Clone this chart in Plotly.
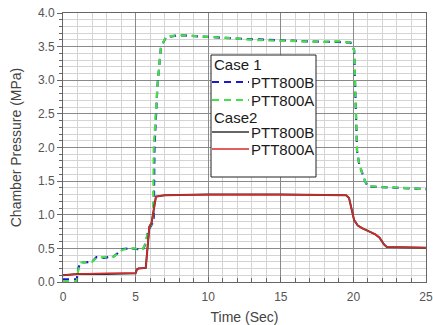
import plotly.graph_objects as go

# Case 1 (dashed)
t_c1b = [0, 0.95, 1.05, 1.2, 2.0, 2.3, 2.8, 3.5, 4.1, 4.6, 5.5, 5.65, 5.9, 6.1, 6.25, 6.3, 6.5, 6.75, 7.1, 8, 10, 12, 13, 16, 18, 19, 19.8, 20.05, 20.15, 20.25, 20.4, 20.8, 21.0, 22, 23.5, 25]
v_c1b = [0.04, 0.04, 0.2, 0.29, 0.30, 0.37, 0.36, 0.38, 0.49, 0.50, 0.48, 0.55, 0.78, 0.86, 0.9, 2.0, 2.9, 3.5, 3.64, 3.67, 3.64, 3.62, 3.61, 3.58, 3.57, 3.57, 3.56, 3.45, 2.6, 1.95, 1.75, 1.5, 1.42, 1.41, 1.40, 1.38]
t_c1a = [0, 0.95, 1.05, 1.2, 2.0, 2.3, 2.8, 3.5, 4.1, 4.6, 5.5, 5.65, 5.9, 6.1, 6.2, 6.25, 6.5, 6.75, 7.1, 8, 10, 12, 13, 16, 18, 19, 19.8, 20.05, 20.15, 20.25, 20.4, 20.8, 21.0, 22, 23.5, 25]
v_c1a = [0.01, 0.01, 0.18, 0.29, 0.30, 0.36, 0.37, 0.38, 0.48, 0.50, 0.49, 0.56, 0.79, 0.86, 0.9, 2.0, 2.9, 3.5, 3.65, 3.67, 3.65, 3.62, 3.60, 3.58, 3.57, 3.58, 3.56, 3.45, 2.6, 1.95, 1.75, 1.5, 1.43, 1.41, 1.40, 1.38]

# Case2 (solid)
t_c2b = [0, 1, 3, 5.0, 5.1, 5.2, 5.7, 5.8, 5.95, 6.1, 6.25, 6.4, 7, 10, 15, 19.5, 19.7, 19.9, 20.05, 20.3, 20.6, 21.0, 21.5, 21.8, 22.1, 22.3, 25]
v_c2b = [0.10, 0.12, 0.12, 0.13, 0.19, 0.20, 0.21, 0.50, 0.82, 0.88, 1.10, 1.27, 1.29, 1.30, 1.30, 1.29, 1.25, 1.05, 0.92, 0.84, 0.80, 0.76, 0.71, 0.66, 0.56, 0.52, 0.51]
t_c2a = [0, 1, 3, 5.0, 5.1, 5.2, 5.7, 5.8, 5.95, 6.1, 6.25, 6.4, 7, 10, 15, 19.5, 19.7, 19.9, 20.05, 20.3, 20.6, 21.0, 21.5, 21.8, 22.1, 22.3, 25]
v_c2a = [0.10, 0.12, 0.13, 0.13, 0.19, 0.20, 0.21, 0.50, 0.83, 0.88, 1.10, 1.27, 1.29, 1.30, 1.30, 1.29, 1.25, 1.05, 0.92, 0.84, 0.80, 0.76, 0.71, 0.66, 0.56, 0.52, 0.51]

x_ticks = [0, 5, 10, 15, 20, 25]
y_ticks = [0.0, 0.5, 1.0, 1.5, 2.0, 2.5, 3.0, 3.5, 4.0]
y_tick_labels = ["0.0", "0.5", "1.0", "1.5", "2.0", "2.5", "3.0", "3.5", "4.0"]

series_names = ["PTT800B", "PTT800A", "PTT800B", "PTT800A"]
group_titles = ["Case 1", "Case2"]
colors = ["#1a1acc", "#44e044", "#333333", "#d42a2a"]

fig = go.Figure()
fig.add_trace(go.Scatter(x=t_c1b, y=v_c1b, mode="lines", name=series_names[0], showlegend=False,
                         line=dict(color=colors[0], width=2.2, dash="6px,5px")))
fig.add_trace(go.Scatter(x=t_c1a, y=v_c1a, mode="lines", name=series_names[1], showlegend=False,
                         line=dict(color=colors[1], width=2.2, dash="6px,5px")))
fig.add_trace(go.Scatter(x=t_c2b, y=v_c2b, mode="lines", name=series_names[2], showlegend=False,
                         line=dict(color=colors[2], width=2.0)))
fig.add_trace(go.Scatter(x=t_c2a, y=v_c2a, mode="lines", name=series_names[3], showlegend=False,
                         line=dict(color=colors[3], width=1.6)))

L, R, T, B = 63, 7, 13, 43
W, H = 433, 325
pw, ph = W - L - R, H - T - B

def px_x(p):
    return (p - L) / pw

def px_y(p):
    return (H - B - p) / ph

# legend box
fig.add_shape(type="rect", xref="paper", yref="paper",
              x0=px_x(211), x1=px_x(316), y0=px_y(177), y1=px_y(55),
              fillcolor="white", line=dict(color="#222", width=1), layer="above")

leg_font = dict(family="Liberation Sans, Arial", size=15, color="#1a1a1a")
for title, yy in zip(group_titles, [65, 117]):
    fig.add_annotation(xref="paper", yref="paper", x=px_x(212), y=px_y(yy),
                       xanchor="left", yanchor="middle", text=title, showarrow=False,
                       font=leg_font)
entry_y = [82, 100, 132, 149]
entry_dash = ["7px,5px", "7px,5px", "solid", "solid"]
entry_w = [2.2, 2.2, 1.3, 1.3]
for name, col, yy, dsh, lw in zip(series_names, colors, entry_y, entry_dash, entry_w):
    fig.add_shape(type="line", xref="paper", yref="paper",
                  x0=px_x(212), x1=px_x(249), y0=px_y(yy), y1=px_y(yy),
                  line=dict(color=col, width=lw, dash=dsh), layer="above")
    fig.add_annotation(xref="paper", yref="paper", x=px_x(249), y=px_y(yy),
                       xanchor="left", yanchor="middle", text=name, showarrow=False,
                       font=leg_font)

fig.update_layout(
    width=W, height=H,
    margin=dict(l=L, r=R, t=T, b=B, autoexpand=False),
    plot_bgcolor="white", paper_bgcolor="white",
    font=dict(family="Liberation Sans, Arial", color="#444"),
    showlegend=False,
    xaxis=dict(range=[0, 25], tickvals=x_ticks, ticktext=[str(v) for v in x_ticks],
               automargin=False,
               showgrid=True, gridcolor="#8a8a8a", gridwidth=1,
               minor=dict(dtick=1, showgrid=True, gridcolor="#d4d4d4", ticks="inside", ticklen=4, tickcolor="#666"),
               ticks="inside", ticklen=5, tickcolor="#666", ticklabelstandoff=4,
               showline=True, linecolor="#666", linewidth=1, mirror=True,
               zeroline=False, tickfont=dict(size=12, color="#555"),
               title=dict(text="Time (Sec)", font=dict(size=14, color="#444"), standoff=8)),
    yaxis=dict(range=[0, 4], tickvals=y_ticks, ticktext=y_tick_labels,
               automargin=False,
               showgrid=True, gridcolor="#8a8a8a", gridwidth=1,
               minor=dict(dtick=0.1, showgrid=True, gridcolor="#d4d4d4", ticks="outside", ticklen=3, tickcolor="#666"),
               ticks="outside", ticklen=5, tickcolor="#666",
               showline=True, linecolor="#666", linewidth=1, mirror=True,
               zeroline=False, tickfont=dict(size=12, color="#555"),
               title=dict(text="Chamber Pressure (MPa)", font=dict(size=14, color="#444"), standoff=13)),
)

fig.write_html(
    "out.html",
    config={"displayModeBar": False, "responsive": False},
    post_script="document.documentElement.style.overflow='hidden';document.body.style.margin='0';document.body.style.overflow='hidden';",
)
